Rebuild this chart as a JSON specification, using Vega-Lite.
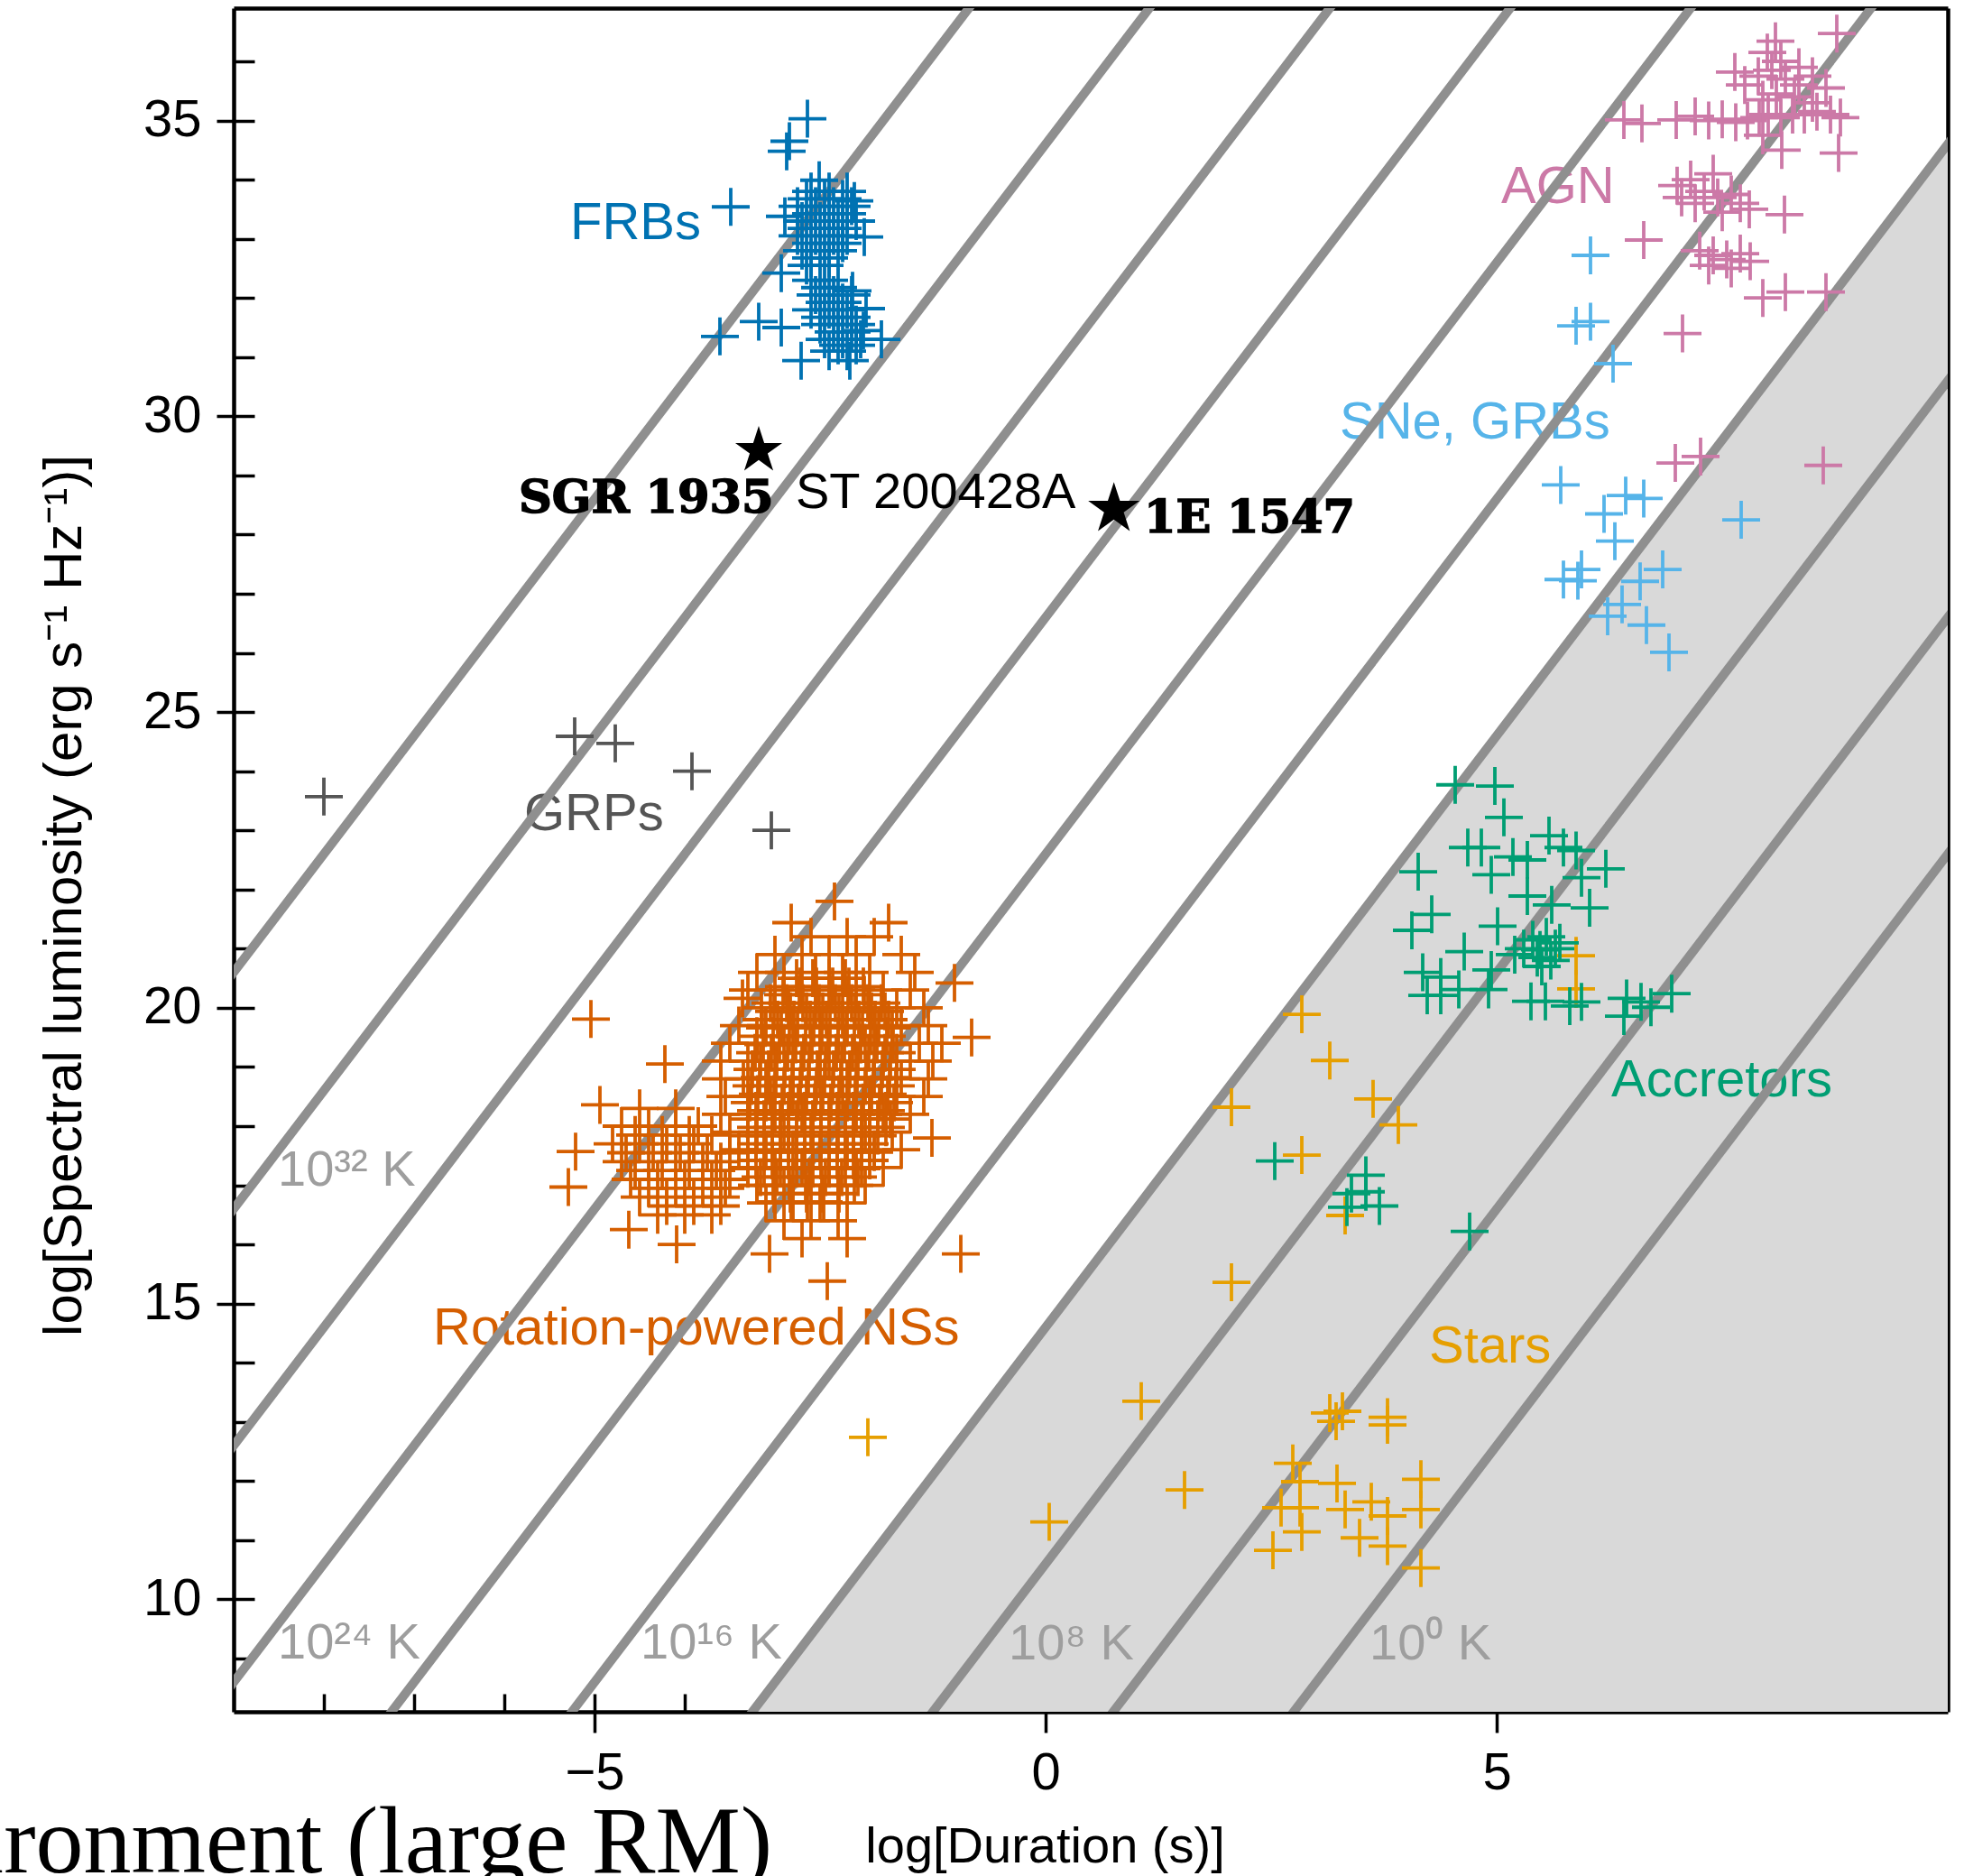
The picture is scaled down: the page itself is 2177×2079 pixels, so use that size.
{
  "$schema": "https://vega.github.io/schema/vega-lite/v6.json",
  "width": 1900,
  "height": 1888,
  "autosize": {"type": "none"},
  "padding": {"left": 259, "top": 9, "right": 18, "bottom": 182},
  "background": "white",
  "config": {
    "view": {"stroke": null},
    "axis": {"labelFont": "Liberation Sans", "titleFont": "Liberation Sans", "labelFontSize": 58, "titleFontSize": 58, "titleFontWeight": "normal", "labelColor": "black", "titleColor": "black", "tickColor": "black", "domainColor": "black", "tickWidth": 3.5, "domainWidth": 4.5, "grid": false, "zindex": 1, "labelOverlap": false, "labelFlush": false, "labelBound": false}
  },
  "resolve": {"axis": {"x": "independent", "y": "independent"}},
  "datasets": {
    "labels": [
      {"t": "FRBs", "x": -5.27, "y": 32.99, "c": "FRB"},
      {"t": "AGN", "x": 5.05, "y": 33.61, "c": "AGN"},
      {"t": "SNe, GRBs", "x": 3.26, "y": 29.62, "c": "SNe"},
      {"t": "GRPs", "x": -5.78, "y": 23.01, "c": "GRP"},
      {"t": "Accretors", "x": 6.27, "y": 18.5, "c": "Acc"},
      {"t": "Stars", "x": 4.25, "y": 14.0, "c": "Stars"},
      {"t": "Rotation-powered NSs", "x": -6.79, "y": 14.31, "c": "NS"}
    ],
    "temps": [
      {"t": "10³² K", "x": -8.51, "y": 16.99},
      {"t": "10²⁴ K", "x": -8.51, "y": 9.0},
      {"t": "10¹⁶ K", "x": -4.49, "y": 9.0},
      {"t": "10⁸ K", "x": -0.41, "y": 8.98},
      {"t": "10⁰ K", "x": 3.59, "y": 8.98}
    ],
    "lines": [
      {"T": 0, "x": -10, "y": -17.4}, {"T": 0, "x": 12, "y": 26.6},
      {"T": 4, "x": -10, "y": -13.4}, {"T": 4, "x": 12, "y": 30.6},
      {"T": 8, "x": -10, "y": -9.4}, {"T": 8, "x": 12, "y": 34.6},
      {"T": 12, "x": -10, "y": -5.4}, {"T": 12, "x": 12, "y": 38.6},
      {"T": 16, "x": -10, "y": -1.4}, {"T": 16, "x": 12, "y": 42.6},
      {"T": 20, "x": -10, "y": 2.6}, {"T": 20, "x": 12, "y": 46.6},
      {"T": 24, "x": -10, "y": 6.6}, {"T": 24, "x": 12, "y": 50.6},
      {"T": 28, "x": -10, "y": 10.6}, {"T": 28, "x": 12, "y": 54.6},
      {"T": 32, "x": -10, "y": 14.6}, {"T": 32, "x": 12, "y": 58.6},
      {"T": 36, "x": -10, "y": 18.6}, {"T": 36, "x": 12, "y": 62.6}
    ],
    "pts": [
      {"c":"Stars","x":2.84,"y":19.89},{"c":"Stars","x":3.15,"y":19.11},{"c":"Stars","x":3.63,"y":18.46},{"c":"Stars","x":3.91,"y":18.02},{"c":"Stars","x":2.06,"y":18.32},{"c":"Stars","x":2.84,"y":17.51},{"c":"Stars","x":3.32,"y":16.49},{"c":"Stars","x":2.06,"y":15.36},{"c":"Stars","x":1.06,"y":13.35},{"c":"Stars","x":1.54,"y":11.85},{"c":"Stars","x":0.04,"y":11.31},{"c":"Stars","x":3.15,"y":13.15},{"c":"Stars","x":3.29,"y":13.18},{"c":"Stars","x":3.22,"y":13.01},{"c":"Stars","x":3.79,"y":13.08},{"c":"Stars","x":3.79,"y":12.95},{"c":"Stars","x":2.74,"y":12.3},{"c":"Stars","x":2.82,"y":11.99},{"c":"Stars","x":3.23,"y":11.96},{"c":"Stars","x":2.61,"y":11.55},{"c":"Stars","x":2.82,"y":11.55},{"c":"Stars","x":3.32,"y":11.52},{"c":"Stars","x":3.61,"y":11.65},{"c":"Stars","x":3.79,"y":11.41},{"c":"Stars","x":4.16,"y":12.03},{"c":"Stars","x":4.16,"y":11.52},{"c":"Stars","x":2.84,"y":11.14},{"c":"Stars","x":3.48,"y":11.04},{"c":"Stars","x":3.79,"y":10.9},{"c":"Stars","x":2.52,"y":10.83},{"c":"Stars","x":4.16,"y":10.53},{"c":"Stars","x":-1.97,"y":12.74},{"c":"Stars","x":5.88,"y":20.88},{"c":"Stars","x":5.88,"y":20.32},
      {"c":"NS","x":-2.34,"y":21.8},
      {"c":"NS","x":-2.82,"y":21.44},{"c":"NS","x":-1.74,"y":21.44},
      {"c":"NS","x":-2.6,"y":21.2},{"c":"NS","x":-2.2,"y":21.2},{"c":"NS","x":-1.9,"y":21.2},
      {"c":"NS","x":-3.0,"y":20.9},{"c":"NS","x":-2.7,"y":20.9},{"c":"NS","x":-2.4,"y":20.9},{"c":"NS","x":-2.1,"y":20.9},{"c":"NS","x":-1.6,"y":20.9},
      {"c":"NS","x":-3.2,"y":20.6},{"c":"NS","x":-2.9,"y":20.6},{"c":"NS","x":-2.55,"y":20.6},{"c":"NS","x":-2.25,"y":20.6},{"c":"NS","x":-1.95,"y":20.6},{"c":"NS","x":-1.45,"y":20.6},
      {"c":"NS","x":-1.01,"y":20.42},
      {"c":"NS","x":-3.3,"y":20.3},{"c":"NS","x":-3.0,"y":20.3},{"c":"NS","x":-2.7,"y":20.3},{"c":"NS","x":-2.4,"y":20.3},{"c":"NS","x":-2.1,"y":20.3},{"c":"NS","x":-1.8,"y":20.3},{"c":"NS","x":-1.5,"y":20.3},
      {"c":"NS","x":-3.36,"y":20.16},
      {"c":"NS","x":-3.15,"y":20.0},{"c":"NS","x":-2.85,"y":20.0},{"c":"NS","x":-2.55,"y":20.0},{"c":"NS","x":-2.25,"y":20.0},{"c":"NS","x":-1.95,"y":20.0},{"c":"NS","x":-1.65,"y":20.0},{"c":"NS","x":-1.35,"y":20.0},
      {"c":"NS","x":-3.4,"y":19.7},{"c":"NS","x":-3.1,"y":19.7},{"c":"NS","x":-2.8,"y":19.7},{"c":"NS","x":-2.5,"y":19.7},{"c":"NS","x":-2.2,"y":19.7},{"c":"NS","x":-1.9,"y":19.7},{"c":"NS","x":-1.6,"y":19.7},{"c":"NS","x":-1.3,"y":19.7},
      {"c":"NS","x":-0.82,"y":19.5},
      {"c":"NS","x":-3.5,"y":19.4},{"c":"NS","x":-3.2,"y":19.4},{"c":"NS","x":-2.9,"y":19.4},{"c":"NS","x":-2.6,"y":19.4},{"c":"NS","x":-2.3,"y":19.4},{"c":"NS","x":-2.0,"y":19.4},{"c":"NS","x":-1.7,"y":19.4},{"c":"NS","x":-1.4,"y":19.4},{"c":"NS","x":-1.15,"y":19.4},
      {"c":"NS","x":-3.6,"y":19.1},{"c":"NS","x":-3.3,"y":19.1},{"c":"NS","x":-3.0,"y":19.1},{"c":"NS","x":-2.7,"y":19.1},{"c":"NS","x":-2.4,"y":19.1},{"c":"NS","x":-2.1,"y":19.1},{"c":"NS","x":-1.8,"y":19.1},{"c":"NS","x":-1.5,"y":19.1},{"c":"NS","x":-1.25,"y":19.1},
      {"c":"NS","x":-3.6,"y":18.8},{"c":"NS","x":-3.35,"y":18.8},{"c":"NS","x":-3.1,"y":18.8},{"c":"NS","x":-2.8,"y":18.8},{"c":"NS","x":-2.5,"y":18.8},{"c":"NS","x":-2.2,"y":18.8},{"c":"NS","x":-1.9,"y":18.8},{"c":"NS","x":-1.6,"y":18.8},{"c":"NS","x":-1.3,"y":18.8},
      {"c":"NS","x":-3.55,"y":18.5},{"c":"NS","x":-3.3,"y":18.5},{"c":"NS","x":-3.05,"y":18.5},{"c":"NS","x":-2.8,"y":18.5},{"c":"NS","x":-2.55,"y":18.5},{"c":"NS","x":-2.25,"y":18.5},{"c":"NS","x":-1.95,"y":18.5},{"c":"NS","x":-1.65,"y":18.5},{"c":"NS","x":-1.35,"y":18.5},
      {"c":"NS","x":-3.6,"y":18.2},{"c":"NS","x":-3.3,"y":18.2},{"c":"NS","x":-3.0,"y":18.2},{"c":"NS","x":-2.7,"y":18.2},{"c":"NS","x":-2.4,"y":18.2},{"c":"NS","x":-2.1,"y":18.2},{"c":"NS","x":-1.8,"y":18.2},{"c":"NS","x":-1.5,"y":18.2},
      {"c":"NS","x":-3.5,"y":17.9},{"c":"NS","x":-3.2,"y":17.9},{"c":"NS","x":-2.9,"y":17.9},{"c":"NS","x":-2.6,"y":17.9},{"c":"NS","x":-2.3,"y":17.9},{"c":"NS","x":-2.0,"y":17.9},{"c":"NS","x":-1.7,"y":17.9},{"c":"NS","x":-1.26,"y":17.8},
      {"c":"NS","x":-3.4,"y":17.6},{"c":"NS","x":-3.1,"y":17.6},{"c":"NS","x":-2.8,"y":17.6},{"c":"NS","x":-2.5,"y":17.6},{"c":"NS","x":-2.2,"y":17.6},{"c":"NS","x":-1.9,"y":17.6},{"c":"NS","x":-1.6,"y":17.6},
      {"c":"NS","x":-3.3,"y":17.3},{"c":"NS","x":-3.0,"y":17.3},{"c":"NS","x":-2.7,"y":17.3},{"c":"NS","x":-2.4,"y":17.3},{"c":"NS","x":-2.1,"y":17.3},{"c":"NS","x":-1.8,"y":17.3},
      {"c":"NS","x":-3.2,"y":17.0},{"c":"NS","x":-2.9,"y":17.0},{"c":"NS","x":-2.6,"y":17.0},{"c":"NS","x":-2.3,"y":17.0},{"c":"NS","x":-2.0,"y":17.0},
      {"c":"NS","x":-3.1,"y":16.7},{"c":"NS","x":-2.8,"y":16.7},{"c":"NS","x":-2.5,"y":16.7},{"c":"NS","x":-2.2,"y":16.7},
      {"c":"NS","x":-2.9,"y":16.4},{"c":"NS","x":-2.6,"y":16.4},{"c":"NS","x":-2.3,"y":16.4},
      {"c":"NS","x":-2.7,"y":16.1},{"c":"NS","x":-2.2,"y":16.1},
      {"c":"NS","x":-3.06,"y":15.84},{"c":"NS","x":-0.94,"y":15.84},{"c":"NS","x":-2.42,"y":15.38},
      {"c":"NS","x":-4.5,"y":18.3},{"c":"NS","x":-4.1,"y":18.3},
      {"c":"NS","x":-4.7,"y":18.0},{"c":"NS","x":-4.4,"y":18.0},{"c":"NS","x":-4.1,"y":18.0},{"c":"NS","x":-3.85,"y":18.0},
      {"c":"NS","x":-4.8,"y":17.7},{"c":"NS","x":-4.5,"y":17.7},{"c":"NS","x":-4.2,"y":17.7},{"c":"NS","x":-3.9,"y":17.7},
      {"c":"NS","x":-4.7,"y":17.4},{"c":"NS","x":-4.4,"y":17.4},{"c":"NS","x":-4.1,"y":17.4},{"c":"NS","x":-3.8,"y":17.4},{"c":"NS","x":-3.6,"y":17.4},
      {"c":"NS","x":-4.6,"y":17.1},{"c":"NS","x":-4.3,"y":17.1},{"c":"NS","x":-4.0,"y":17.1},{"c":"NS","x":-3.7,"y":17.1},{"c":"NS","x":-3.5,"y":17.1},
      {"c":"NS","x":-4.5,"y":16.8},{"c":"NS","x":-4.2,"y":16.8},{"c":"NS","x":-3.9,"y":16.8},{"c":"NS","x":-3.6,"y":16.8},
      {"c":"NS","x":-4.3,"y":16.5},{"c":"NS","x":-4.0,"y":16.5},{"c":"NS","x":-3.7,"y":16.5},
      {"c":"NS","x":-4.62,"y":16.25},{"c":"NS","x":-4.09,"y":16.0},
      {"c":"NS","x":-5.04,"y":19.81},{"c":"NS","x":-4.22,"y":19.05},{"c":"NS","x":-4.94,"y":18.36},{"c":"NS","x":-5.21,"y":17.57},{"c":"NS","x":-5.29,"y":16.97},
      {"c":"NS","x":-4.55,"y":17.85},{"c":"NS","x":-4.25,"y":17.85},{"c":"NS","x":-3.95,"y":17.85},{"c":"NS","x":-3.7,"y":17.85},
      {"c":"NS","x":-4.65,"y":17.55},{"c":"NS","x":-4.35,"y":17.55},{"c":"NS","x":-4.05,"y":17.55},{"c":"NS","x":-3.75,"y":17.55},{"c":"NS","x":-3.5,"y":17.55},
      {"c":"NS","x":-4.55,"y":17.25},{"c":"NS","x":-4.25,"y":17.25},{"c":"NS","x":-3.95,"y":17.25},{"c":"NS","x":-3.65,"y":17.25},
      {"c":"NS","x":-4.4,"y":16.95},{"c":"NS","x":-4.1,"y":16.95},{"c":"NS","x":-3.8,"y":16.95},{"c":"NS","x":-3.55,"y":16.95},
      {"c":"NS","x":-4.2,"y":16.65},{"c":"NS","x":-3.9,"y":16.65},{"c":"NS","x":-3.6,"y":16.65},
      {"c":"NS","x":-3.0,"y":16.72},{"c":"NS","x":-2.82,"y":16.72},{"c":"NS","x":-2.64,"y":16.72},{"c":"NS","x":-2.46,"y":16.72},
      {"c":"NS","x":-3.01,"y":16.86},{"c":"NS","x":-2.83,"y":16.86},{"c":"NS","x":-2.65,"y":16.86},{"c":"NS","x":-2.47,"y":16.86},{"c":"NS","x":-2.29,"y":16.86},
      {"c":"NS","x":-3.2,"y":17.0},{"c":"NS","x":-3.02,"y":17.0},{"c":"NS","x":-2.84,"y":17.0},{"c":"NS","x":-2.66,"y":17.0},{"c":"NS","x":-2.48,"y":17.0},{"c":"NS","x":-2.3,"y":17.0},{"c":"NS","x":-2.12,"y":17.0},
      {"c":"NS","x":-3.16,"y":17.14},{"c":"NS","x":-2.98,"y":17.14},{"c":"NS","x":-2.8,"y":17.14},{"c":"NS","x":-2.62,"y":17.14},{"c":"NS","x":-2.44,"y":17.14},{"c":"NS","x":-2.26,"y":17.14},{"c":"NS","x":-2.08,"y":17.14},
      {"c":"NS","x":-3.3,"y":17.28},{"c":"NS","x":-3.12,"y":17.28},{"c":"NS","x":-2.94,"y":17.28},{"c":"NS","x":-2.76,"y":17.28},{"c":"NS","x":-2.58,"y":17.28},{"c":"NS","x":-2.4,"y":17.28},{"c":"NS","x":-2.22,"y":17.28},{"c":"NS","x":-2.04,"y":17.28},
      {"c":"NS","x":-3.21,"y":17.42},{"c":"NS","x":-3.03,"y":17.42},{"c":"NS","x":-2.85,"y":17.42},{"c":"NS","x":-2.67,"y":17.42},{"c":"NS","x":-2.49,"y":17.42},{"c":"NS","x":-2.31,"y":17.42},{"c":"NS","x":-2.13,"y":17.42},{"c":"NS","x":-1.95,"y":17.42},
      {"c":"NS","x":-3.3,"y":17.56},{"c":"NS","x":-3.12,"y":17.56},{"c":"NS","x":-2.94,"y":17.56},{"c":"NS","x":-2.76,"y":17.56},{"c":"NS","x":-2.58,"y":17.56},{"c":"NS","x":-2.4,"y":17.56},{"c":"NS","x":-2.22,"y":17.56},{"c":"NS","x":-2.04,"y":17.56},{"c":"NS","x":-1.9,"y":17.56},
      {"c":"NS","x":-3.21,"y":17.7},{"c":"NS","x":-3.03,"y":17.7},{"c":"NS","x":-2.85,"y":17.7},{"c":"NS","x":-2.67,"y":17.7},{"c":"NS","x":-2.49,"y":17.7},{"c":"NS","x":-2.31,"y":17.7},{"c":"NS","x":-2.13,"y":17.7},{"c":"NS","x":-1.95,"y":17.7},
      {"c":"NS","x":-3.3,"y":17.84},{"c":"NS","x":-3.12,"y":17.84},{"c":"NS","x":-2.94,"y":17.84},{"c":"NS","x":-2.76,"y":17.84},{"c":"NS","x":-2.58,"y":17.84},{"c":"NS","x":-2.4,"y":17.84},{"c":"NS","x":-2.22,"y":17.84},{"c":"NS","x":-2.04,"y":17.84},{"c":"NS","x":-1.86,"y":17.84},
      {"c":"NS","x":-3.21,"y":17.98},{"c":"NS","x":-3.03,"y":17.98},{"c":"NS","x":-2.85,"y":17.98},{"c":"NS","x":-2.67,"y":17.98},{"c":"NS","x":-2.49,"y":17.98},{"c":"NS","x":-2.31,"y":17.98},{"c":"NS","x":-2.13,"y":17.98},{"c":"NS","x":-1.95,"y":17.98},{"c":"NS","x":-1.77,"y":17.98},
      {"c":"NS","x":-3.3,"y":18.12},{"c":"NS","x":-3.12,"y":18.12},{"c":"NS","x":-2.94,"y":18.12},{"c":"NS","x":-2.76,"y":18.12},{"c":"NS","x":-2.58,"y":18.12},{"c":"NS","x":-2.4,"y":18.12},{"c":"NS","x":-2.22,"y":18.12},{"c":"NS","x":-2.04,"y":18.12},{"c":"NS","x":-1.86,"y":18.12},{"c":"NS","x":-1.72,"y":18.12},
      {"c":"NS","x":-3.21,"y":18.26},{"c":"NS","x":-3.03,"y":18.26},{"c":"NS","x":-2.85,"y":18.26},{"c":"NS","x":-2.67,"y":18.26},{"c":"NS","x":-2.49,"y":18.26},{"c":"NS","x":-2.31,"y":18.26},{"c":"NS","x":-2.13,"y":18.26},{"c":"NS","x":-1.95,"y":18.26},{"c":"NS","x":-1.77,"y":18.26},
      {"c":"NS","x":-3.28,"y":18.4},{"c":"NS","x":-3.1,"y":18.4},{"c":"NS","x":-2.92,"y":18.4},{"c":"NS","x":-2.74,"y":18.4},{"c":"NS","x":-2.56,"y":18.4},{"c":"NS","x":-2.38,"y":18.4},{"c":"NS","x":-2.2,"y":18.4},{"c":"NS","x":-2.02,"y":18.4},{"c":"NS","x":-1.84,"y":18.4},{"c":"NS","x":-1.68,"y":18.4},
      {"c":"NS","x":-3.19,"y":18.54},{"c":"NS","x":-3.01,"y":18.54},{"c":"NS","x":-2.83,"y":18.54},{"c":"NS","x":-2.65,"y":18.54},{"c":"NS","x":-2.47,"y":18.54},{"c":"NS","x":-2.29,"y":18.54},{"c":"NS","x":-2.11,"y":18.54},{"c":"NS","x":-1.93,"y":18.54},{"c":"NS","x":-1.75,"y":18.54},
      {"c":"NS","x":-3.26,"y":18.68},{"c":"NS","x":-3.08,"y":18.68},{"c":"NS","x":-2.9,"y":18.68},{"c":"NS","x":-2.72,"y":18.68},{"c":"NS","x":-2.54,"y":18.68},{"c":"NS","x":-2.36,"y":18.68},{"c":"NS","x":-2.18,"y":18.68},{"c":"NS","x":-2.0,"y":18.68},{"c":"NS","x":-1.82,"y":18.68},{"c":"NS","x":-1.66,"y":18.68},
      {"c":"NS","x":-3.17,"y":18.82},{"c":"NS","x":-2.99,"y":18.82},{"c":"NS","x":-2.81,"y":18.82},{"c":"NS","x":-2.63,"y":18.82},{"c":"NS","x":-2.45,"y":18.82},{"c":"NS","x":-2.27,"y":18.82},{"c":"NS","x":-2.09,"y":18.82},{"c":"NS","x":-1.91,"y":18.82},{"c":"NS","x":-1.73,"y":18.82},
      {"c":"NS","x":-3.25,"y":18.96},{"c":"NS","x":-3.07,"y":18.96},{"c":"NS","x":-2.89,"y":18.96},{"c":"NS","x":-2.71,"y":18.96},{"c":"NS","x":-2.53,"y":18.96},{"c":"NS","x":-2.35,"y":18.96},{"c":"NS","x":-2.17,"y":18.96},{"c":"NS","x":-1.99,"y":18.96},{"c":"NS","x":-1.81,"y":18.96},{"c":"NS","x":-1.65,"y":18.96},
      {"c":"NS","x":-3.16,"y":19.1},{"c":"NS","x":-2.98,"y":19.1},{"c":"NS","x":-2.8,"y":19.1},{"c":"NS","x":-2.62,"y":19.1},{"c":"NS","x":-2.44,"y":19.1},{"c":"NS","x":-2.26,"y":19.1},{"c":"NS","x":-2.08,"y":19.1},{"c":"NS","x":-1.9,"y":19.1},{"c":"NS","x":-1.72,"y":19.1},
      {"c":"NS","x":-3.22,"y":19.24},{"c":"NS","x":-3.04,"y":19.24},{"c":"NS","x":-2.86,"y":19.24},{"c":"NS","x":-2.68,"y":19.24},{"c":"NS","x":-2.5,"y":19.24},{"c":"NS","x":-2.32,"y":19.24},{"c":"NS","x":-2.14,"y":19.24},{"c":"NS","x":-1.96,"y":19.24},{"c":"NS","x":-1.78,"y":19.24},{"c":"NS","x":-1.65,"y":19.24},
      {"c":"NS","x":-3.13,"y":19.38},{"c":"NS","x":-2.95,"y":19.38},{"c":"NS","x":-2.77,"y":19.38},{"c":"NS","x":-2.59,"y":19.38},{"c":"NS","x":-2.41,"y":19.38},{"c":"NS","x":-2.23,"y":19.38},{"c":"NS","x":-2.05,"y":19.38},{"c":"NS","x":-1.87,"y":19.38},{"c":"NS","x":-1.69,"y":19.38},
      {"c":"NS","x":-3.2,"y":19.52},{"c":"NS","x":-3.02,"y":19.52},{"c":"NS","x":-2.84,"y":19.52},{"c":"NS","x":-2.66,"y":19.52},{"c":"NS","x":-2.48,"y":19.52},{"c":"NS","x":-2.3,"y":19.52},{"c":"NS","x":-2.12,"y":19.52},{"c":"NS","x":-1.94,"y":19.52},{"c":"NS","x":-1.76,"y":19.52},
      {"c":"NS","x":-3.11,"y":19.66},{"c":"NS","x":-2.93,"y":19.66},{"c":"NS","x":-2.75,"y":19.66},{"c":"NS","x":-2.57,"y":19.66},{"c":"NS","x":-2.39,"y":19.66},{"c":"NS","x":-2.21,"y":19.66},{"c":"NS","x":-2.03,"y":19.66},{"c":"NS","x":-1.85,"y":19.66},{"c":"NS","x":-1.7,"y":19.66},
      {"c":"NS","x":-3.15,"y":19.8},{"c":"NS","x":-2.97,"y":19.8},{"c":"NS","x":-2.79,"y":19.8},{"c":"NS","x":-2.61,"y":19.8},{"c":"NS","x":-2.43,"y":19.8},{"c":"NS","x":-2.25,"y":19.8},{"c":"NS","x":-2.07,"y":19.8},{"c":"NS","x":-1.89,"y":19.8},{"c":"NS","x":-1.74,"y":19.8},
      {"c":"NS","x":-3.01,"y":19.94},{"c":"NS","x":-2.83,"y":19.94},{"c":"NS","x":-2.65,"y":19.94},{"c":"NS","x":-2.47,"y":19.94},{"c":"NS","x":-2.29,"y":19.94},{"c":"NS","x":-2.11,"y":19.94},{"c":"NS","x":-1.93,"y":19.94},{"c":"NS","x":-1.78,"y":19.94},
      {"c":"NS","x":-3.05,"y":20.08},{"c":"NS","x":-2.87,"y":20.08},{"c":"NS","x":-2.69,"y":20.08},{"c":"NS","x":-2.51,"y":20.08},{"c":"NS","x":-2.33,"y":20.08},{"c":"NS","x":-2.15,"y":20.08},{"c":"NS","x":-1.97,"y":20.08},{"c":"NS","x":-1.82,"y":20.08},
      {"c":"NS","x":-2.91,"y":20.22},{"c":"NS","x":-2.73,"y":20.22},{"c":"NS","x":-2.55,"y":20.22},{"c":"NS","x":-2.37,"y":20.22},{"c":"NS","x":-2.19,"y":20.22},{"c":"NS","x":-2.01,"y":20.22},
      {"c":"NS","x":-2.9,"y":20.36},{"c":"NS","x":-2.72,"y":20.36},{"c":"NS","x":-2.54,"y":20.36},{"c":"NS","x":-2.36,"y":20.36},{"c":"NS","x":-2.18,"y":20.36},{"c":"NS","x":-2.02,"y":20.36},
      {"c":"NS","x":-2.76,"y":20.5},{"c":"NS","x":-2.58,"y":20.5},{"c":"NS","x":-2.4,"y":20.5},{"c":"NS","x":-2.22,"y":20.5},
      {"c":"FRB","x":-2.64,"y":35.03},{"c":"FRB","x":-2.84,"y":34.65},{"c":"FRB","x":-2.87,"y":34.48},{"c":"FRB","x":-3.49,"y":33.54},{"c":"FRB","x":-3.61,"y":31.35},{"c":"FRB","x":-3.18,"y":31.6},{"c":"FRB","x":-2.93,"y":31.5},{"c":"FRB","x":-2.71,"y":30.94},{"c":"FRB","x":-2.17,"y":30.94},{"c":"FRB","x":-2.02,"y":31.45},{"c":"FRB","x":-1.82,"y":31.3},{"c":"FRB","x":-2.12,"y":33.64},{"c":"FRB","x":-2.01,"y":33.03},{"c":"FRB","x":-2.51,"y":33.99},{"c":"FRB","x":-2.14,"y":32.12},{"c":"FRB","x":-1.99,"y":31.82},{"c":"FRB","x":-2.89,"y":33.38},{"c":"FRB","x":-2.93,"y":32.42},
      {"c":"FRB","x":-2.6,"y":33.8},{"c":"FRB","x":-2.4,"y":33.8},{"c":"FRB","x":-2.2,"y":33.8},{"c":"FRB","x":-2.75,"y":33.55},{"c":"FRB","x":-2.55,"y":33.55},{"c":"FRB","x":-2.35,"y":33.55},{"c":"FRB","x":-2.15,"y":33.55},{"c":"FRB","x":-2.7,"y":33.3},{"c":"FRB","x":-2.5,"y":33.3},{"c":"FRB","x":-2.3,"y":33.3},{"c":"FRB","x":-2.1,"y":33.3},{"c":"FRB","x":-2.75,"y":33.05},{"c":"FRB","x":-2.55,"y":33.05},{"c":"FRB","x":-2.35,"y":33.05},{"c":"FRB","x":-2.2,"y":33.05},{"c":"FRB","x":-2.7,"y":32.8},{"c":"FRB","x":-2.5,"y":32.8},{"c":"FRB","x":-2.3,"y":32.8},{"c":"FRB","x":-2.65,"y":32.55},{"c":"FRB","x":-2.45,"y":32.55},
      {"c":"FRB","x":-2.6,"y":32.3},{"c":"FRB","x":-2.4,"y":32.3},{"c":"FRB","x":-2.55,"y":32.05},{"c":"FRB","x":-2.35,"y":32.05},{"c":"FRB","x":-2.15,"y":32.05},{"c":"FRB","x":-2.6,"y":31.8},{"c":"FRB","x":-2.4,"y":31.8},{"c":"FRB","x":-2.2,"y":31.8},{"c":"FRB","x":-2.5,"y":31.55},{"c":"FRB","x":-2.3,"y":31.55},{"c":"FRB","x":-2.1,"y":31.55},{"c":"FRB","x":-2.45,"y":31.3},{"c":"FRB","x":-2.25,"y":31.3},{"c":"FRB","x":-2.05,"y":31.3},{"c":"FRB","x":-2.4,"y":31.1},{"c":"FRB","x":-2.2,"y":31.1},
      {"c":"FRB","x":-2.65,"y":33.675},{"c":"FRB","x":-2.45,"y":33.675},{"c":"FRB","x":-2.25,"y":33.675},{"c":"FRB","x":-2.6,"y":33.425},{"c":"FRB","x":-2.4,"y":33.425},{"c":"FRB","x":-2.2,"y":33.425},{"c":"FRB","x":-2.65,"y":33.175},{"c":"FRB","x":-2.45,"y":33.175},{"c":"FRB","x":-2.25,"y":33.175},{"c":"FRB","x":-2.6,"y":32.925},{"c":"FRB","x":-2.4,"y":32.925},{"c":"FRB","x":-2.25,"y":32.925},{"c":"FRB","x":-2.6,"y":32.675},{"c":"FRB","x":-2.4,"y":32.675},
      {"c":"FRB","x":-2.5,"y":32.175},{"c":"FRB","x":-2.3,"y":32.175},{"c":"FRB","x":-2.45,"y":31.925},{"c":"FRB","x":-2.25,"y":31.925},{"c":"FRB","x":-2.5,"y":31.675},{"c":"FRB","x":-2.3,"y":31.675},{"c":"FRB","x":-2.15,"y":31.675},{"c":"FRB","x":-2.35,"y":31.425},{"c":"FRB","x":-2.15,"y":31.425},{"c":"FRB","x":-2.3,"y":31.2},{"c":"FRB","x":-2.1,"y":31.2},
      {"c":"GRP","x":-8.0,"y":23.57},{"c":"GRP","x":-5.22,"y":24.59},{"c":"GRP","x":-4.77,"y":24.47},{"c":"GRP","x":-3.92,"y":24.0},{"c":"GRP","x":-3.04,"y":23.0},
      {"c":"SNe","x":6.04,"y":32.72},{"c":"SNe","x":5.88,"y":31.53},{"c":"SNe","x":6.04,"y":31.6},{"c":"SNe","x":6.29,"y":30.89},{"c":"SNe","x":5.71,"y":28.84},{"c":"SNe","x":6.43,"y":28.66},{"c":"SNe","x":6.63,"y":28.61},{"c":"SNe","x":6.19,"y":28.35},{"c":"SNe","x":6.31,"y":27.89},{"c":"SNe","x":7.71,"y":28.25},{"c":"SNe","x":5.74,"y":27.24},{"c":"SNe","x":5.94,"y":27.41},{"c":"SNe","x":5.9,"y":27.22},{"c":"SNe","x":6.84,"y":27.41},{"c":"SNe","x":6.59,"y":27.21},{"c":"SNe","x":6.23,"y":26.62},{"c":"SNe","x":6.39,"y":26.82},{"c":"SNe","x":6.66,"y":26.47},{"c":"SNe","x":6.91,"y":26.01},
      {"c":"AGN","x":8.77,"y":36.47},{"c":"AGN","x":8.09,"y":36.34},{"c":"AGN","x":8.0,"y":36.15},{"c":"AGN","x":7.64,"y":35.82},{"c":"AGN","x":6.41,"y":35.01},{"c":"AGN","x":6.61,"y":34.95},{"c":"AGN","x":6.99,"y":35.01},{"c":"AGN","x":7.2,"y":35.07},{"c":"AGN","x":7.35,"y":35.0},{"c":"AGN","x":7.5,"y":35.02},{"c":"AGN","x":7.65,"y":34.97},{"c":"AGN","x":7.78,"y":35.0},{"c":"AGN","x":7.91,"y":35.05},{"c":"AGN","x":8.01,"y":35.1},{"c":"AGN","x":8.15,"y":35.05},{"c":"AGN","x":8.28,"y":35.1},{"c":"AGN","x":8.41,"y":35.1},{"c":"AGN","x":8.55,"y":35.15},{"c":"AGN","x":8.7,"y":35.1},{"c":"AGN","x":8.81,"y":35.05},
      {"c":"AGN","x":7.75,"y":35.6},{"c":"AGN","x":7.9,"y":35.75},{"c":"AGN","x":8.05,"y":35.85},{"c":"AGN","x":8.2,"y":35.7},{"c":"AGN","x":8.35,"y":35.6},{"c":"AGN","x":8.5,"y":35.75},{"c":"AGN","x":8.65,"y":35.55},{"c":"AGN","x":8.1,"y":35.45},{"c":"AGN","x":8.3,"y":35.4},{"c":"AGN","x":7.95,"y":35.35},{"c":"AGN","x":8.5,"y":35.3},{"c":"AGN","x":8.15,"y":36.0},{"c":"AGN","x":8.35,"y":35.9},
      {"c":"AGN","x":8.79,"y":34.45},{"c":"AGN","x":8.16,"y":34.5},{"c":"AGN","x":7.95,"y":34.75},
      {"c":"AGN","x":7.0,"y":33.9},{"c":"AGN","x":7.15,"y":34.0},{"c":"AGN","x":7.3,"y":33.8},{"c":"AGN","x":7.45,"y":33.7},{"c":"AGN","x":7.6,"y":33.75},{"c":"AGN","x":7.7,"y":33.6},{"c":"AGN","x":7.2,"y":33.6},{"c":"AGN","x":7.05,"y":33.7},{"c":"AGN","x":7.5,"y":33.45},{"c":"AGN","x":7.8,"y":33.5},{"c":"AGN","x":7.4,"y":34.1},
      {"c":"AGN","x":8.19,"y":33.41},{"c":"AGN","x":6.63,"y":32.98},
      {"c":"AGN","x":7.25,"y":32.8},{"c":"AGN","x":7.4,"y":32.72},{"c":"AGN","x":7.55,"y":32.65},{"c":"AGN","x":7.7,"y":32.75},{"c":"AGN","x":7.81,"y":32.62},{"c":"AGN","x":7.35,"y":32.55},{"c":"AGN","x":7.6,"y":32.5},
      {"c":"AGN","x":7.95,"y":32.0},{"c":"AGN","x":8.2,"y":32.1},{"c":"AGN","x":8.65,"y":32.1},{"c":"AGN","x":7.06,"y":31.4},{"c":"AGN","x":6.98,"y":29.21},{"c":"AGN","x":7.26,"y":29.32},{"c":"AGN","x":8.62,"y":29.17},
      {"c":"Acc","x":4.54,"y":23.77},{"c":"Acc","x":4.98,"y":23.75},{"c":"Acc","x":5.08,"y":23.22},{"c":"Acc","x":4.68,"y":22.71},{"c":"Acc","x":4.83,"y":22.71},{"c":"Acc","x":5.58,"y":22.91},{"c":"Acc","x":4.13,"y":22.3},{"c":"Acc","x":4.94,"y":22.25},{"c":"Acc","x":5.18,"y":22.55},{"c":"Acc","x":5.34,"y":22.5},{"c":"Acc","x":5.74,"y":22.71},{"c":"Acc","x":5.88,"y":22.66},{"c":"Acc","x":6.21,"y":22.35},{"c":"Acc","x":5.94,"y":22.2},{"c":"Acc","x":5.34,"y":21.89},{"c":"Acc","x":5.61,"y":21.74},{"c":"Acc","x":6.03,"y":21.69},{"c":"Acc","x":4.28,"y":21.58},{"c":"Acc","x":4.06,"y":21.31},{"c":"Acc","x":5.01,"y":21.38},{"c":"Acc","x":4.64,"y":20.95},{"c":"Acc","x":5.48,"y":20.98},{"c":"Acc","x":5.4,"y":21.15},{"c":"Acc","x":5.55,"y":21.2},{"c":"Acc","x":5.65,"y":21.0},{"c":"Acc","x":5.45,"y":20.85},{"c":"Acc","x":5.6,"y":20.8},{"c":"Acc","x":5.3,"y":21.0},{"c":"Acc","x":5.7,"y":21.1},{"c":"Acc","x":5.5,"y":20.7},{"c":"Acc","x":5.2,"y":20.9},{"c":"Acc","x":4.18,"y":20.6},{"c":"Acc","x":4.38,"y":20.52},{"c":"Acc","x":4.23,"y":20.21},{"c":"Acc","x":4.38,"y":20.21},{"c":"Acc","x":4.58,"y":20.31},{"c":"Acc","x":4.94,"y":20.64},{"c":"Acc","x":4.91,"y":20.31},{"c":"Acc","x":5.38,"y":20.11},{"c":"Acc","x":5.54,"y":20.11},{"c":"Acc","x":5.81,"y":20.03},{"c":"Acc","x":5.94,"y":20.1},{"c":"Acc","x":6.44,"y":20.16},{"c":"Acc","x":6.71,"y":20.01},{"c":"Acc","x":6.94,"y":20.24},{"c":"Acc","x":6.41,"y":19.86},{"c":"Acc","x":6.6,"y":20.1},
      {"c":"Acc","x":2.54,"y":17.41},{"c":"Acc","x":3.55,"y":16.89},{"c":"Acc","x":3.39,"y":16.86},{"c":"Acc","x":3.7,"y":16.65},{"c":"Acc","x":3.34,"y":16.63},{"c":"Acc","x":3.55,"y":17.17},{"c":"Acc","x":4.7,"y":16.22}
    ]
  },
  "encoding": {
    "x": {"field": "x", "type": "quantitative", "scale": {"domain": [-9, 10], "nice": false, "zero": false}, "axis": null},
    "y": {"field": "y", "type": "quantitative", "scale": {"domain": [8.1, 36.9], "nice": false, "zero": false}, "axis": null}
  },
  "layer": [
    {
      "data": {"values": [{"x": -4, "y": 6.6}, {"x": 11, "y": 36.6}]},
      "mark": {"type": "area", "clip": true, "color": "#d9d9d9", "opacity": 1},
      "encoding": {
        "x": {"field": "x", "type": "quantitative", "scale": {"domain": [-9, 10], "nice": false, "zero": false}, "axis": {"orient": "top", "ticks": false, "labels": false, "domain": true, "title": null}},
        "y": {"field": "y", "type": "quantitative", "scale": {"domain": [8.1, 36.9], "nice": false, "zero": false}, "axis": {"orient": "right", "ticks": false, "labels": false, "domain": true, "title": null}},
        "y2": {"datum": 0}
      }
    },
    {
      "data": {"name": "labels"},
      "mark": {"type": "text", "align": "left", "baseline": "alphabetic", "fontSize": 58, "font": "Liberation Sans"},
      "encoding": {
        "x": {"field": "x", "type": "quantitative", "axis": null},
        "y": {"field": "y", "type": "quantitative", "axis": null},
        "text": {"field": "t"},
        "color": {"field": "c", "type": "nominal", "scale": {"domain": ["FRB", "AGN", "SNe", "GRP", "Acc", "Stars", "NS"], "range": ["#0072B2", "#CC79A7", "#56B4E9", "#555555", "#009E73", "#E69F00", "#D55E00"]}, "legend": null}
      }
    },
    {
      "data": {"name": "temps"},
      "mark": {"type": "text", "align": "left", "baseline": "alphabetic", "fontSize": 56, "font": "Liberation Sans", "color": "#9e9e9e"},
      "encoding": {
        "x": {"field": "x", "type": "quantitative", "axis": null},
        "y": {"field": "y", "type": "quantitative", "axis": null},
        "text": {"field": "t"}
      }
    },
    {
      "data": {"name": "lines"},
      "mark": {"type": "line", "clip": true, "color": "#8f8f8f", "strokeWidth": 10},
      "encoding": {
        "x": {"field": "x", "type": "quantitative", "scale": {"domain": [-9, 10], "nice": false, "zero": false}, "axis": {"orient": "bottom", "values": [-8, -7, -6, -5, -4, -3, -2, -1, 0, 1, 2, 3, 4, 5, 6, 7, 8, 9], "tickSize": -20, "labels": false, "domain": false, "title": null}},
        "y": {"field": "y", "type": "quantitative", "scale": {"domain": [8.1, 36.9], "nice": false, "zero": false}, "axis": {"orient": "left", "values": [9, 10, 11, 12, 13, 14, 15, 16, 17, 18, 19, 20, 21, 22, 23, 24, 25, 26, 27, 28, 29, 30, 31, 32, 33, 34, 35, 36], "tickSize": -23, "labels": false, "domain": false, "title": null}},
        "detail": {"field": "T", "type": "nominal"}
      }
    },
    {
      "data": {"name": "pts"},
      "mark": {"type": "point", "shape": "M-1,0H1M0,-1V1", "filled": false, "strokeWidth": 3.8, "size": 1764, "opacity": 1},
      "encoding": {
        "x": {"field": "x", "type": "quantitative", "scale": {"domain": [-9, 10], "nice": false, "zero": false}, "axis": {"orient": "bottom", "values": [-5, 0, 5], "tickSize": 23, "labelPadding": 16, "domain": true, "title": "log[Duration (s)]", "titleFontSize": 56, "titleX": 899, "titleY": 166, "titleBaseline": "alphabetic", "titleAlign": "center"}},
        "y": {"field": "y", "type": "quantitative", "scale": {"domain": [8.1, 36.9], "nice": false, "zero": false}, "axis": {"orient": "left", "values": [10, 15, 20, 25, 30, 35], "tickSize": 19, "labelPadding": 17, "domain": true, "title": "log[Spectral luminosity (erg s⁻¹ Hz⁻¹)]", "titleFontSize": 60, "titleX": -170, "titleY": 983, "titleAngle": 270, "titleBaseline": "alphabetic", "titleAlign": "center"}},
        "color": {"field": "c", "type": "nominal", "scale": {"domain": ["FRB", "AGN", "SNe", "GRP", "Acc", "Stars", "NS"], "range": ["#0072B2", "#CC79A7", "#56B4E9", "#555555", "#009E73", "#E69F00", "#D55E00"]}, "legend": null}
      }
    },
    {
      "data": {"values": [{"x": -3.18, "y": 29.42}]},
      "mark": {"type": "point", "shape": "M0,-1L0.2245,-0.309L0.951,-0.309L0.3633,0.118L0.5878,0.809L0,0.382L-0.5878,0.809L-0.3633,0.118L-0.951,-0.309L-0.2245,-0.309Z", "filled": true, "color": "black", "size": 2990, "opacity": 1},
      "encoding": {
        "x": {"field": "x", "type": "quantitative", "axis": null},
        "y": {"field": "y", "type": "quantitative", "axis": null}
      }
    },
    {
      "data": {"values": [{"x": 0.757, "y": 28.43}]},
      "mark": {"type": "point", "shape": "M0,-1L0.2245,-0.309L0.951,-0.309L0.3633,0.118L0.5878,0.809L0,0.382L-0.5878,0.809L-0.3633,0.118L-0.951,-0.309L-0.2245,-0.309Z", "filled": true, "color": "black", "size": 3600, "opacity": 1},
      "encoding": {
        "x": {"field": "x", "type": "quantitative", "axis": null},
        "y": {"field": "y", "type": "quantitative", "axis": null}
      }
    },
    {
      "data": {"values": [{"t": "SGR 1935", "x": -5.84, "y": 28.37}, {"t": "1E 1547", "x": 1.09, "y": 28.04}]},
      "mark": {"type": "text", "align": "left", "baseline": "alphabetic", "fontSize": 51, "font": "DejaVu Serif", "fontWeight": "bold", "color": "black", "stroke": "black", "strokeWidth": 1.6},
      "encoding": {
        "x": {"field": "x", "type": "quantitative", "axis": null},
        "y": {"field": "y", "type": "quantitative", "axis": null},
        "text": {"field": "t"}
      }
    },
    {
      "data": {"values": [{"t": "ST 200428A", "x": -2.77, "y": 28.45}]},
      "mark": {"type": "text", "align": "left", "baseline": "alphabetic", "fontSize": 56, "font": "Liberation Sans", "color": "black"},
      "encoding": {
        "x": {"field": "x", "type": "quantitative", "axis": null},
        "y": {"field": "y", "type": "quantitative", "axis": null},
        "text": {"field": "t"}
      }
    },
    {
      "data": {"values": [{"t": "environment (large RM)", "x": -3.03, "y": 5.39}]},
      "mark": {"type": "text", "align": "right", "baseline": "alphabetic", "fontSize": 106, "font": "Liberation Serif", "color": "black"},
      "encoding": {
        "x": {"field": "x", "type": "quantitative", "axis": null},
        "y": {"field": "y", "type": "quantitative", "axis": null},
        "text": {"field": "t"}
      }
    }
  ]
}
